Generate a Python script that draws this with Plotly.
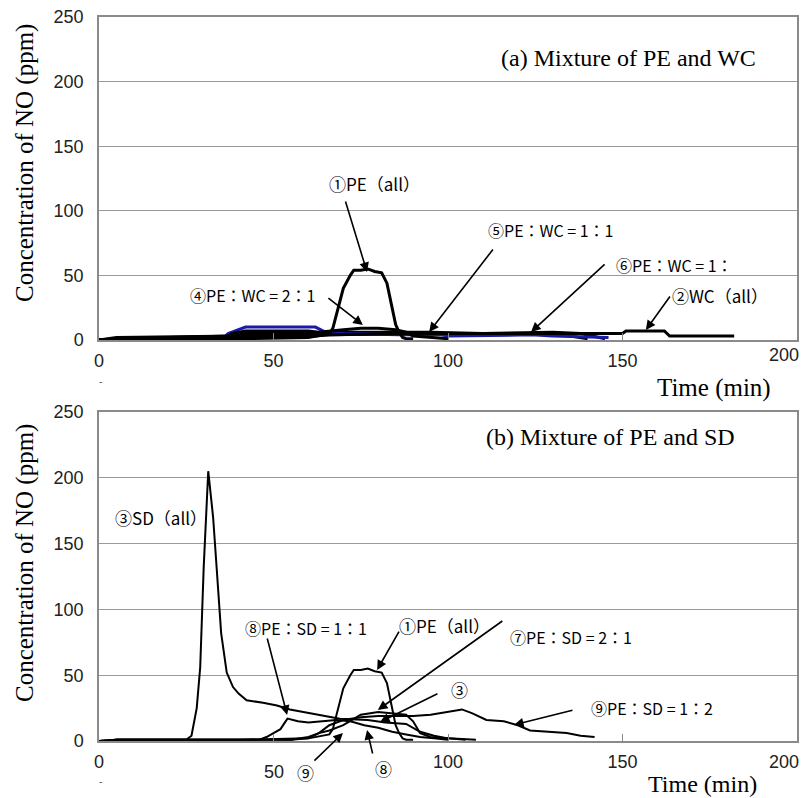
import plotly.graph_objects as go

# ---------------- data ----------------
# Panel (a): Mixture of PE and WC
pe_all_t = [0, 4, 5, 40, 60, 66, 67, 68, 70, 72, 73, 75, 77, 79, 81, 82.5, 84, 85, 86, 87, 88, 90]
pe_all_v = [0, 0, 1, 1, 2, 5, 9, 20, 40, 50, 54, 54, 55, 53, 52, 44, 26, 12, 6, 2, 1, 1]

wc_all_t = [0, 5, 40, 90, 150, 151, 162, 163.5, 182]
wc_all_v = [0, 2, 3, 5, 5, 7, 7, 3, 3]

pe_wc_21_t = [0, 5, 36, 38, 42, 60, 63, 66, 70, 75, 80, 85, 88, 90, 100]
pe_wc_21_v = [0, 1, 1, 5, 7, 7, 6, 7, 8, 9, 9, 8, 6, 3, 1]

pe_wc_11_t = [0, 5, 38, 42, 60, 65, 70, 85, 95, 110, 125, 135, 140]
pe_wc_11_v = [0, 1, 3, 5, 5, 5, 6, 6, 6, 5, 5, 3, 1]

pe_wc_12_t = [0, 5, 40, 62, 66, 90, 110, 124, 130, 138, 142, 145]
pe_wc_12_v = [0, 1, 2, 3, 4, 5, 5, 6, 6, 5, 3, 1]

blue_t = [0, 35, 37, 42, 62, 65, 70, 86, 98, 100, 124, 130, 146]
blue_v = [0, 0, 5, 10, 10, 6, 5, 4, 4, 3, 4, 3, 2]

# Panel (b): Mixture of PE and SD
sd_all_t = [0, 4, 5, 25, 26.5, 28, 29, 30, 31.3, 32.7, 33.7, 35, 36.6, 38.4, 40, 42.3, 47, 51,
            54.7, 60.5, 65, 69, 77, 82, 88, 92, 96, 100, 105]
sd_all_v = [0, 0, 1, 1, 4, 25, 56, 132, 205, 170, 132, 82, 52, 41, 36, 31, 29, 27,
            24, 21, 19, 17, 16, 14, 13, 7, 4, 2, 1]

pe_sd_21_t = [0, 5, 55, 60, 63, 66, 70, 75, 80, 85, 88, 90, 92, 95, 100, 108]
pe_sd_21_v = [0, 1, 1, 3, 6, 8, 12, 20, 22, 21, 20, 15, 6, 3, 2, 1]

pe_sd_11_t = [0, 5, 46, 48, 50, 52, 53, 54, 57, 60, 64, 68, 72, 76, 80, 84, 88, 92, 96, 100]
pe_sd_11_v = [0, 1, 1, 3, 6, 9, 13, 17, 15, 14, 15, 16, 15, 12, 10, 7, 5, 3, 2, 1]

pe_sd_12_t = [0, 5, 55, 60, 63, 66, 70, 75, 80, 85, 90, 95, 100, 102, 104, 107, 111, 116,
              120, 123.5, 128, 134, 138, 142]
pe_sd_12_v = [0, 1, 1, 2, 6, 12, 16, 18, 19, 19, 19, 20, 22, 23, 24, 21, 16, 15,
              12, 8, 7, 6, 4, 3]

x_ticks = [0, 50, 100, 150, 200]
y_ticks = [0, 50, 100, 150, 200, 250]

# ---------------- figure ----------------
fig = go.Figure()

top_series = [
    (pe_wc_12_t, pe_wc_12_v, "black"),
    (pe_wc_11_t, pe_wc_11_v, "black"),
    (blue_t, blue_v, "#1a1aa8"),
    (pe_wc_21_t, pe_wc_21_v, "black"),
    (wc_all_t, wc_all_v, "black"),
    (pe_all_t, pe_all_v, "black"),
]
for t, v, c in top_series:
    fig.add_trace(go.Scatter(x=t, y=v, mode="lines", line=dict(color=c, width=3),
                             xaxis="x", yaxis="y", showlegend=False))

bot_series = [[sd_all_t, sd_all_v], [pe_all_t, pe_all_v], [pe_sd_21_t, pe_sd_21_v],
              [pe_sd_11_t, pe_sd_11_v], [pe_sd_12_t, pe_sd_12_v]]
for t, v in bot_series:
    fig.add_trace(go.Scatter(x=t, y=v, mode="lines", line=dict(color="black", width=2),
                             xaxis="x2", yaxis="y2", showlegend=False))

W, H = 808, 798
xdom = [99 / W, 797 / W]
tick_font = dict(family="Liberation Sans", size=18, color="#222")
ax_common = dict(range=[0, 200], tickvals=x_ticks, showgrid=False, zeroline=False,
                 showline=True, linecolor="#8a8a8a", linewidth=1.5, mirror=True,
                 ticks="inside", ticklen=7, tickcolor="#8a8a8a", automargin=False,
                 ticklabeloverflow="allow", tickfont=tick_font, ticklabelstandoff=4)
ay_common = dict(range=[0, 250], tickvals=y_ticks, showgrid=True, gridcolor="#9a9a9a",
                 gridwidth=1, zeroline=False, showline=True, linecolor="#8a8a8a",
                 linewidth=1.5, mirror=True, ticks="", automargin=False,
                 ticklabeloverflow="allow", tickfont=tick_font, ticklabelstandoff=10)

fig.update_layout(
    template="none",
    width=W, height=H, margin=dict(l=0, r=0, t=0, b=0, pad=0),
    paper_bgcolor="white", plot_bgcolor="white",
    xaxis=dict(domain=xdom, anchor="y", ticktext=["0", "50", "100", "150", ""], **ax_common),
    yaxis=dict(domain=[1 - 340 / H, 1 - 17 / H], anchor="x", **ay_common),
    xaxis2=dict(domain=xdom, anchor="y2", ticktext=["0", "", "100", "150", ""], **ax_common),
    yaxis2=dict(domain=[1 - 741 / H, 1 - 412 / H], anchor="x2", **ay_common),
)

serif = "Liberation Serif"
jp = "Noto Sans CJK JP"
ann = []


def text(x, y, s, xref, yref, size=16, fam=jp, color="black", xanchor="center", **kw):
    ann.append(dict(x=x, y=y, text=s, xref=xref, yref=yref, showarrow=False,
                    xanchor=xanchor, yanchor="middle",
                    font=dict(family=fam, size=size, color=color), **kw))


def ptext(px, py, s, **kw):
    text(px / W, 1 - py / H, s, "paper", "paper", **kw)


def arrow(xh, yh, xt, yt, xref, yref):
    ann.append(dict(x=xh, y=yh, ax=xt, ay=yt, xref=xref, yref=yref, axref=xref, ayref=yref,
                    text="", showarrow=True, arrowhead=2, arrowsize=1.2, arrowwidth=1.6,
                    arrowcolor="black"))


# axis titles and loose tick labels
ptext(25, 163, "Concentration of NO (ppm)", size=25, fam=serif, textangle=-90)
ptext(25, 563, "Concentration of NO (ppm)", size=25, fam=serif, textangle=-90)
ptext(714, 388, "Time (min)", size=25, fam=serif)
ptext(702, 784, "Time (min)", size=24, fam=serif)
ptext(100, 381, "-", size=10, fam="Liberation Sans", color="#555")
ptext(100, 781, "-", size=10, fam="Liberation Sans", color="#555")
text(50, 1 - 772 / H, "50", "x2", "paper", fam="Liberation Sans", size=18, color="#222")
text(200, 1 - 355 / H, "200", "x", "paper", fam="Liberation Sans", size=18, color="#222",
     xanchor="right", xshift=4)
text(200, 1 - 762 / H, "200", "x2", "paper", fam="Liberation Sans", size=18, color="#222",
     xanchor="right", xshift=4)

# panel (a)
text(151.6, 218.3, "(a) Mixture of PE and WC", "x", "y", size=24, fam=serif)
text(78.8, 121.5, "①PE（all）", "x", "y", size=17)
arrow(76.8, 52.6, 70.5, 108.4, "x", "y")
text(44.1, 34.8, "④PE：WC = 2：1", "x", "y")
arrow(75.6, 11.6, 65.3, 33.3, "x", "y")
text(129.5, 85.1, "⑤PE：WC = 1：1", "x", "y")
arrow(94.6, 6.2, 113.2, 71.2, "x", "y")
text(165, 58, "⑥PE：WC = 1：", "x", "y")
arrow(123.8, 6.2, 145.3, 59.6, "x", "y")
text(178, 34.8, "②WC（all）", "x", "y", size=17)
arrow(156.7, 7.7, 163.9, 34.8, "x", "y")

# panel (b)
text(146.7, 231, "(b) Mixture of PE and SD", "x2", "y2", size=24, fam=serif)
text(17.8, 169.5, "③SD（all）", "x2", "y2", size=17)
text(59.3, 85.9, "⑧PE：SD = 1：1", "x2", "y2")
arrow(53.9, 19.8, 48.1, 79, "x2", "y2")
text(99.1, 88.1, "①PE（all）", "x2", "y2", size=17)
arrow(79.7, 54, 86.2, 84.3, "x2", "y2")
text(135.2, 79, "⑦PE：SD = 2：1", "x2", "y2")
arrow(79.9, 23.6, 116, 92, "x2", "y2")
text(103.2, 38.8, "③", "x2", "y2", size=17)
arrow(80.5, 14.4, 97.4, 36.5, "x2", "y2")
text(158.5, 25, "⑨PE：SD = 1：2", "x2", "y2")
arrow(118.9, 12.2, 136.1, 23.6, "x2", "y2")
ptext(305, 772, "⑨", size=17)
arrow(69.9, 6.1, 61.3, -16, "x2", "y2")
ptext(383, 768, "⑧", size=17)
arrow(76.8, 8.4, 78.5, -10.6, "x2", "y2")

fig.update_layout(annotations=ann)
fig.write_html("out.html")
